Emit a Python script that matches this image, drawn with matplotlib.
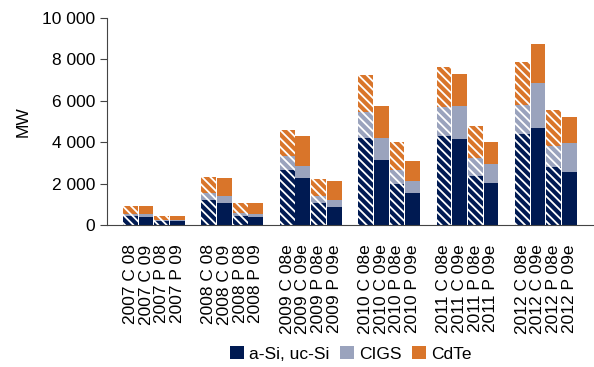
import matplotlib.pyplot as plt
from matplotlib.patches import Patch
from matplotlib.ticker import FuncFormatter

plt.rcParams['font.family'] = ['Liberation Sans', 'DejaVu Sans']
plt.rcParams['hatch.linewidth'] = 1.3

# Data (MW), 4 bars per year: C 08, C 09, P 08, P 09
labels = [
    "2007 C 08", "2007 C 09", "2007 P 08", "2007 P 09",
    "2008 C 08", "2008 C 09", "2008 P 08", "2008 P 09",
    "2009 C 08e", "2009 C 09e", "2009 P 08e", "2009 P 09e",
    "2010 C 08e", "2010 C 09e", "2010 P 08e", "2010 P 09e",
    "2011 C 08e", "2011 C 09e", "2011 P 08e", "2011 P 09e",
    "2012 C 08e", "2012 C 09e", "2012 P 08e", "2012 P 09e",
]
asi = [420, 400, 200, 200,
       1200, 1075, 420, 400,
       2650, 2280, 1080, 870,
       4200, 3150, 2000, 1560,
       4300, 4150, 2380, 2040,
       4400, 4700, 2800, 2570]
cigs = [100, 150, 60, 30,
        350, 325, 180, 150,
        700, 570, 300, 330,
        1250, 1050, 650, 580,
        1370, 1570, 830, 920,
        1400, 2150, 1000, 1380]
cdte = [380, 350, 180, 220,
        750, 850, 480, 530,
        1250, 1450, 820, 900,
        1800, 1550, 1350, 930,
        1930, 1580, 1540, 1040,
        2050, 1900, 1750, 1250]

series = ["a-Si, uc-Si", "CIGS", "CdTe"]
colors = ["#001a52", "#9aa3bd", "#d9752a"]

fig = plt.figure(figsize=(5.94, 3.67), dpi=100)
ax = fig.add_axes([0.180, 0.387, 0.818, 0.565])

# one empty slot before every group of four bars
pos = [1 + (i // 4) * 5 + (i % 4) for i in range(len(labels))]

bottoms = [0] * len(labels)
for vals, col in zip([asi, cigs, cdte], colors):
    for i in range(len(labels)):
        hatched = (i % 2 == 0)
        ax.bar(pos[i], vals[i], bottom=bottoms[i], width=0.94, color=col,
               edgecolor="white" if hatched else col, linewidth=0,
               hatch="\\\\\\\\" if hatched else None)
    bottoms = [b + v for b, v in zip(bottoms, vals)]

ax.set_xlim(-0.5, 30.5)
ax.set_ylim(0, 10000)
ax.set_yticks(range(0, 10001, 2000))
ax.yaxis.set_major_formatter(FuncFormatter(lambda v, p: f"{int(v):,}".replace(",", " ")))
ax.set_xticks(pos)
ax.set_xticklabels(labels, rotation=90)
ax.tick_params(axis="x", length=0, labelsize=12.5, pad=14)
ax.tick_params(axis="y", length=5, labelsize=12.5, color="#444444")
ax.set_ylabel("MW", fontsize=12.5, labelpad=8)

for s in ["top", "right"]:
    ax.spines[s].set_visible(False)
ax.spines["left"].set_color("#444444")
ax.spines["bottom"].set_color("#444444")

handles = [Patch(facecolor=c, label=s) for s, c in zip(series, colors)]
fig.legend(handles=handles, loc="center", bbox_to_anchor=(351 / 594, 1 - 354 / 367),
           ncol=3, frameon=False, fontsize=12.5, handlelength=0.8, handleheight=0.8,
           handletextpad=0.3, columnspacing=0.6)

fig.savefig("out.png", dpi=100)
